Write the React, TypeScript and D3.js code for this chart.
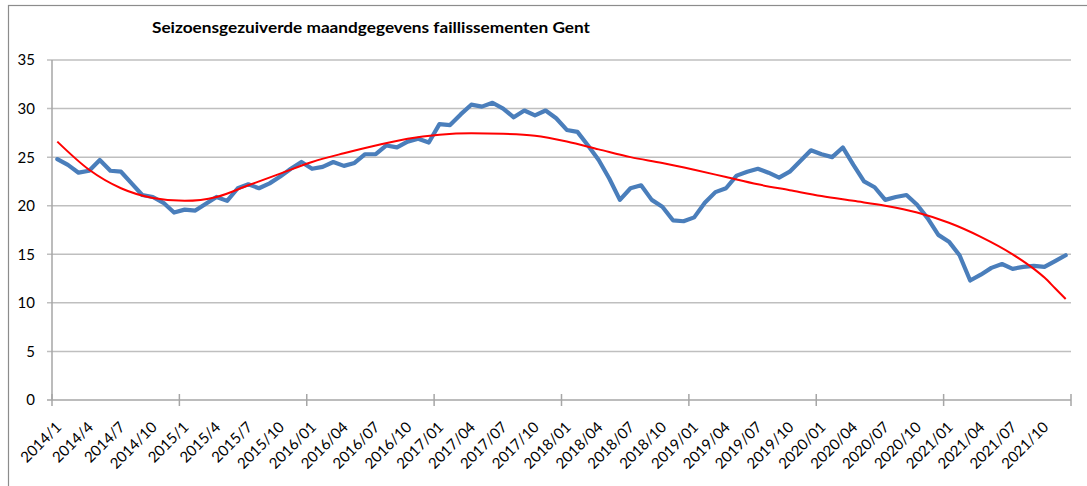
import React from "react";
import * as d3 from "d3";

// seasonally adjusted monthly bankruptcies, 2014/1 .. 2021/12
const values = [
  24.8, 24.2, 23.4, 23.6, 24.7, 23.6, 23.5, 22.3, 21.1, 20.9, 20.3, 19.3,
  19.6, 19.5, 20.2, 20.9, 20.5, 21.8, 22.2, 21.8, 22.3, 23.0, 23.8, 24.5,
  23.8, 24.0, 24.5, 24.1, 24.4, 25.3, 25.3, 26.2, 26.0, 26.6, 26.9, 26.5,
  28.4, 28.3, 29.4, 30.4, 30.2, 30.6, 30.0, 29.1, 29.8, 29.3, 29.8, 29.0,
  27.8, 27.6, 26.2, 24.7, 22.8, 20.6, 21.8, 22.1, 20.6, 19.9, 18.5, 18.4,
  18.8, 20.3, 21.4, 21.8, 23.1, 23.5, 23.8, 23.4, 22.9, 23.5, 24.6, 25.7,
  25.3, 25.0, 26.0, 24.2, 22.5, 21.9, 20.6, 20.9, 21.1, 20.1, 18.7, 17.0,
  16.3, 14.9, 12.3, 12.9, 13.6, 14.0, 13.5, 13.7, 13.8, 13.7, 14.3, 14.9,
];

// trend line (polynomial in the original), read at these month indices
const trendMonths = [
  0, 3, 6, 9, 12, 15, 18, 21, 24, 27, 30, 33, 36, 39, 42, 45, 48, 51, 54, 57,
  60, 63, 66, 69, 72, 75, 78, 81, 84, 87, 90, 92, 93, 94, 95,
];
const trendValues = [
  26.6, 23.7, 21.8, 20.8, 20.5, 20.9, 22.1, 23.3, 24.5, 25.4, 26.2, 26.9,
  27.3, 27.45, 27.4, 27.2, 26.6, 25.8, 25.0, 24.4, 23.7, 22.95, 22.2, 21.6,
  21.0, 20.5, 20.0, 19.3, 18.25, 16.8, 15.0, 13.5, 12.6, 11.5, 10.4,
];

const tickLabels = [
  "2014/1", "2014/4", "2014/7", "2014/10", "2015/1", "2015/4", "2015/7", "2015/10",
  "2016/01", "2016/04", "2016/07", "2016/10", "2017/01", "2017/04", "2017/07", "2017/10",
  "2018/01", "2018/04", "2018/07", "2018/10", "2019/01", "2019/04", "2019/07", "2019/10",
  "2020/01", "2020/04", "2020/07", "2020/10", "2021/01", "2021/04", "2021/07", "2021/10",
];

const yTicks = [0, 5, 10, 15, 20, 25, 30, 35];

const title = "Seizoensgezuiverde maandgegevens faillissementen Gent";

const W = 1087;
const H = 486;
const plot = { left: 52, right: 1071, top: 60, bottom: 400 };
const font = "Lato, 'Open Sans', sans-serif";
const gridColor = "#bfbfbf";
const axisColor = "#a6a6a6";

export default function App() {
  const x = d3
    .scaleBand<number>()
    .domain(d3.range(values.length))
    .range([plot.left, plot.right])
    .paddingInner(0)
    .paddingOuter(0);
  const bw = x.bandwidth();
  const cx = (i: number) => (x(i) as number) + bw / 2;

  const y = d3.scaleLinear().domain([0, 35]).range([plot.bottom, plot.top]);

  const line = d3
    .line<number>()
    .x((_, i) => cx(i))
    .y((d) => y(d));

  const trend = d3
    .line<number>()
    .x((_, i) => cx(trendMonths[i]))
    .y((d) => y(d))
    .curve(d3.curveMonotoneX);

  const yearTicks = d3.range(0, values.length + 1, 12);

  return (
    <svg
      width={W}
      height={H}
      style={{ position: "absolute", left: 0, top: 0, background: "#fff" }}
    >
      <rect x={8.5} y={5.5} width={1200} height={600} fill="#fff" stroke="#8c8c8c" strokeWidth={1.2} />

      <text
        x={152}
        y={33}
        fontFamily={font}
        fontWeight="bold"
        fontSize={15}
        textLength={438}
        lengthAdjust="spacingAndGlyphs"
        fill="#000"
      >
        {title}
      </text>

      {yTicks.map((t) => (
        <g key={t}>
          {t > 0 && (
            <line x1={plot.left - 5} x2={plot.right} y1={y(t)} y2={y(t)} stroke={gridColor} strokeWidth={1.5} />
          )}
          {t === 0 && <line x1={plot.left - 5} x2={plot.left} y1={y(t)} y2={y(t)} stroke={axisColor} strokeWidth={1.5} />}
          <text
            x={35}
            y={y(t)}
            dy="0.36em"
            textAnchor="end"
            fontFamily={font}
            fontSize={15}
            fill="#000"
          >
            {t}
          </text>
        </g>
      ))}

      <line x1={plot.left} x2={plot.left} y1={plot.top} y2={plot.bottom} stroke={axisColor} strokeWidth={1.5} />
      <line x1={plot.left} x2={plot.right} y1={plot.bottom} y2={plot.bottom} stroke={axisColor} strokeWidth={1.5} />
      {yearTicks.map((k) => {
        const xx = k < values.length ? (x(k) as number) : plot.right;
        return <line key={k} x1={xx} x2={xx} y1={plot.bottom - 6} y2={plot.bottom + 6} stroke={axisColor} strokeWidth={1.5} />;
      })}

      {tickLabels.map((lab, j) => {
        const i = j * 3;
        return (
          <text
            key={lab}
            transform={`translate(${cx(i) + 5},${plot.bottom + 28}) rotate(-45)`}
            textAnchor="end"
            fontFamily={font}
            fontSize={15}
            fill="#000"
          >
            {lab}
          </text>
        );
      })}

      <path d={line(values) ?? ""} fill="none" stroke="#4a7ebb" strokeWidth={4.2} strokeLinejoin="round" strokeLinecap="round" />
      <path d={trend(trendValues) ?? ""} fill="none" stroke="#ff0000" strokeWidth={2} />
    </svg>
  );
}
